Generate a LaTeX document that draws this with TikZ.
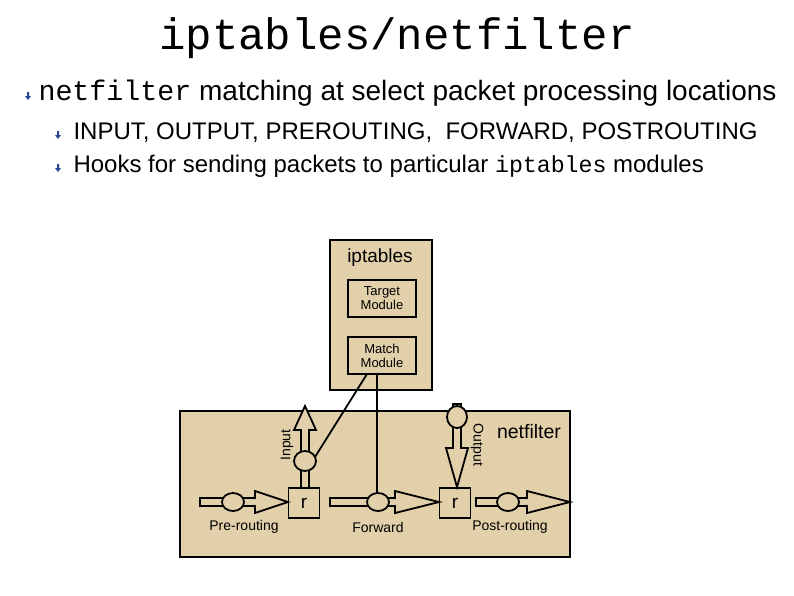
\documentclass[tikz,border=0pt]{standalone}
\usepackage{fontspec}
\setmainfont{Liberation Sans}
\setmonofont{Liberation Mono}
\begin{document}
\begin{tikzpicture}[x=1pt,y=-1pt,
  tan/.style={fill={rgb,255:red,226;green,208;blue,170}},
  box/.style={draw,line width=1.4pt,tan},
  hol/.style={draw,line width=1.8pt,tan,line join=miter},
  sm/.style={font=\fontsize{13}{14}\selectfont,align=center},
  lbl/.style={font=\fontsize{14}{15}\selectfont},
  rr/.style={draw,line width=1.8pt,tan,minimum width=31pt,minimum height=30pt,font=\fontsize{19}{19}\selectfont},
  bul/.style={fill={rgb,255:red,40;green,70;blue,150}}]
\useasboundingbox (0,0) rectangle (794,595);
\newcommand\bulletmark[2]{\fill[bul] (#1-3,#2-5) -- (#1-1,#2-5) -- (#1-1,#2-1) -- (#1+1,#2-1) -- (#1-2,#2+3) -- (#1-5,#2-1) -- (#1-3,#2-1) -- cycle;}
\newcommand\harr[4]{\draw[hol] (#1,#4-4) -- (#2,#4-4) -- (#2,#4-11) -- (#3,#4) -- (#2,#4+11) -- (#2,#4+4) -- (#1,#4+4) -- cycle;}
\newcommand\varr[4]{\draw[hol] (#4-4,#1) -- (#4-4,#2) -- (#4-11,#2) -- (#4,#3) -- (#4+11,#2) -- (#4+4,#2) -- (#4+4,#1) -- cycle;}
% text
\node (title) at (397,38) {\fontsize{44}{44}\selectfont\ttfamily iptables/netfilter};
\bulletmark{30}{97}
\node[anchor=west] (b1) at (35,93) {\fontsize{28}{28}\selectfont{\fontsize{28.3}{28}\selectfont\ttfamily netfilter} matching at select packet processing locations};
\bulletmark{60}{136}
\node[anchor=west] (b2) at (70,133) {\fontsize{24}{24}\selectfont INPUT, OUTPUT, PREROUTING,\ \ FORWARD, POSTROUTING};
\bulletmark{60}{169}
\node[anchor=west] (b3) at (70,166) {\fontsize{24}{24}\selectfont Hooks for sending packets to particular {\fontsize{23.2}{23}\selectfont\ttfamily iptables} modules};
% iptables box
\draw[box] (330,240) rectangle (432,390);
\node (ipt) at (380,258) {\fontsize{19}{19}\selectfont iptables};
\node[draw,line width=1.2pt,sm,minimum width=68pt,minimum height=37pt,inner sep=1pt] (tm) at (382,298.5) {Target\\Module};
\node[draw,line width=1.2pt,sm,minimum width=68pt,minimum height=37pt,inner sep=1pt] (mm) at (382,355.5) {Match\\Module};
% netfilter box
\draw[box] (180,411) rectangle (570,557);
\node (nf) at (529,432) {\fontsize{19.5}{19}\selectfont netfilter};
% r boxes
\node[rr] (r1) at (304,503) {r};
\node[rr] (r2) at (455,503) {r};
% pre-routing
\draw[hol] (200,498) rectangle (224,506);
\harr{243}{255}{288}{502}
\draw[hol] (233,502) ellipse (11 and 9) node (c1) {};
\node[lbl] (l1) at (244,527) {Pre-routing};
% input
\varr{488}{430}{406}{305}
\draw[hol] (305,461) ellipse (11 and 10) node (c2) {};
\node[lbl,rotate=90] (l2) at (287,445) {Input};
% forward
\draw[hol] (330,498) rectangle (368,506);
\harr{386}{395}{439}{502}
\draw[hol] (378,502) ellipse (11 and 9) node (c3) {};
\node[lbl] (l3) at (378,527) {Forward};
% output
\varr{404}{448}{487}{457}
\draw[hol] (457,417) ellipse (10 and 11) node (c4) {};
\node[lbl,rotate=-90] (l4) at (477,445) {Output};
% post-routing
\draw[hol] (476,498) rectangle (500,506);
\harr{517}{527}{570}{502}
\draw[hol] (508,502) ellipse (11 and 9) node (c5) {};
\node[lbl] (l5) at (510,527) {Post-routing};
% links to modules
\draw[line width=1.8pt] (315,457) -- (367,374);
\draw[line width=1.8pt] (377,493) -- (377,374);
\end{tikzpicture}
\end{document}
